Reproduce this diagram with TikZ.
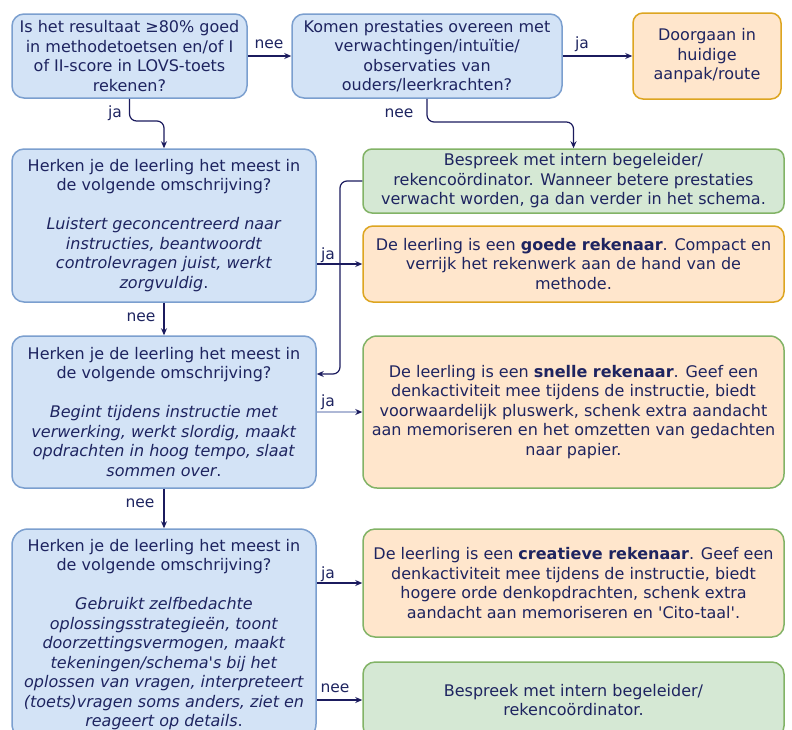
\documentclass[tikz,border=0pt]{standalone}
\usepackage{fontspec}
\setmainfont{DejaVu Sans}
\usetikzlibrary{arrows.meta}
\definecolor{txt}{HTML}{1E2460}
\definecolor{arr}{HTML}{1B1B5E}
\definecolor{bluefill}{HTML}{D3E3F6}
\definecolor{blueline}{HTML}{7B9FCF}
\definecolor{greenfill}{HTML}{D5E8D4}
\definecolor{greenline}{HTML}{82B366}
\definecolor{orangefill}{HTML}{FFE6CC}
\definecolor{orangeline}{HTML}{DDA520}
\definecolor{lightarr}{HTML}{AEB8D6}
\begin{document}
\begin{tikzpicture}[x=1pt,y=-1pt,
  box/.style={rectangle, rounded corners=12pt, line width=1.5pt, align=center,
    inner sep=0pt, text=txt, font=\fontsize{16}{19.5}\selectfont},
  qbox/.style={box, fill=bluefill, draw=blueline},
  gbox/.style={box, fill=greenfill, draw=greenline},
  obox/.style={box, fill=orangefill, draw=orangeline},
  ogbox/.style={box, fill=orangefill, draw=greenline},
  conn/.style={draw=arr, line width=1.2pt, -{Stealth[length=7pt,width=6pt]}},
  lbl/.style={text=txt, font=\fontsize{15.5}{17}\selectfont, inner sep=0pt}]
\useasboundingbox (0,0) rectangle (792,729);
\fill[white] (0,0) rectangle (792,729);

\node[qbox, minimum width=235pt, minimum height=84pt] (A) at (129.5,56)
  {Is het resultaat ≥80\% goed\\in methodetoetsen en/of I\\of II-score in LOVS-toets\\rekenen?};
\node[qbox, minimum width=270pt, minimum height=84pt] (B) at (427,56)
  {Komen prestaties overeen met\\verwachtingen/intuïtie/\\observaties van\\ouders/leerkrachten?};
\node[obox, minimum width=148pt, minimum height=86pt, rounded corners=10pt] (C) at (707,56)
  {Doorgaan in\\huidige\\aanpak/route};

\node[qbox, minimum width=304pt, minimum height=153pt] (Q1) at (164,225.5)
  {Herken je de leerling het meest in\\de volgende omschrijving?\\[19.5pt]
   \textit{Luistert geconcentreerd naar}\\\textit{instructies, beantwoordt}\\
   \textit{controlevragen juist, werkt}\\\textit{zorgvuldig}.};
\node[gbox, minimum width=421pt, minimum height=64pt, rounded corners=9pt] (G1) at (573.5,181)
  {Bespreek met intern begeleider/\\rekencoördinator. Wanneer betere prestaties\\verwacht worden, ga dan verder in het schema.};
\node[obox, minimum width=421pt, minimum height=76pt, rounded corners=10pt] (O1) at (573.5,264)
  {De leerling is een \textbf{goede rekenaar}. Compact en\\verrijk het rekenwerk aan de hand van de\\methode.};

\node[qbox, minimum width=304pt, minimum height=152pt] (Q2) at (164,412)
  {Herken je de leerling het meest in\\de volgende omschrijving?\\[19.5pt]
   \textit{Begint tijdens instructie met}\\\textit{verwerking, werkt slordig, maakt}\\
   \textit{opdrachten in hoog tempo, slaat}\\\textit{sommen over}.};
\node[ogbox, minimum width=421pt, minimum height=152pt, rounded corners=14pt] (O2) at (573.5,412)
  {De leerling is een \textbf{snelle rekenaar}. Geef een\\denkactiviteit mee tijdens de instructie, biedt\\voorwaardelijk pluswerk, schenk extra aandacht\\aan memoriseren en het omzetten van gedachten\\naar papier.};

\node[qbox, minimum width=304pt, minimum height=211pt, rounded corners=16pt] (Q3) at (164,634.5)
  {Herken je de leerling het meest in\\de volgende omschrijving?\\[19.5pt]
   \textit{Gebruikt zelfbedachte}\\\textit{oplossingsstrategieën, toont}\\
   \textit{doorzettingsvermogen, maakt}\\\textit{tekeningen/schema\textquotesingle s bij het}\\
   \textit{oplossen van vragen, interpreteert}\\\textit{(toets)vragen soms anders, ziet en}\\
   \textit{reageert op details}.};
\node[ogbox, minimum width=421pt, minimum height=108pt] (O3) at (573.5,583)
  {De leerling is een \textbf{creatieve rekenaar}. Geef een\\denkactiviteit mee tijdens de instructie, biedt\\hogere orde denkopdrachten, schenk extra\\aandacht aan memoriseren en \textquotesingle Cito-taal\textquotesingle .};
\node[gbox, minimum width=421pt, minimum height=76pt] (G2) at (573.5,700)
  {Bespreek met intern begeleider/\\rekencoördinator.};

% connectors
\draw[conn] (A.east) -- (B.west);
\node[lbl] (lAB) at (269,44) {nee};
\draw[conn] (B.east) -- (C.west);
\node[lbl] (lBC) at (582,44) {ja};
\draw[conn, rounded corners=7pt] (A.south) -- (A.south |- 0,121) -- (Q1.north |- 0,121) -- (Q1.north);
\node[lbl] (lAQ) at (115,113) {ja};
\draw[conn, rounded corners=7pt] (B.south) -- (B.south |- 0,122) -- (G1.north |- 0,122) -- (G1.north);
\node[lbl] (lBG) at (399,113) {nee};
\draw[conn] (Q1.east |- O1.west) -- (O1.west);
\node[lbl] (lQ1) at (328,255) {ja};
\draw[conn, rounded corners=7pt] (G1.west) -- (340,181) -- (340,374) -- (Q2.east |- 0,374);
\draw[conn] (Q1.south) -- (Q2.north);
\node[lbl] (lQ12) at (141,317) {nee};
\draw[conn, draw=lightarr, -{Stealth[length=7pt,width=6pt,color=arr]}] (Q2.east) -- (O2.west);
\node[lbl] (lQ2) at (328,402) {ja};
\draw[conn] (Q2.south) -- (Q3.north);
\node[lbl] (lQ23) at (140,503) {nee};
\draw[conn] (Q3.east |- O3.west) -- (O3.west);
\node[lbl] (lQ3) at (328,574) {ja};
\draw[conn] (Q3.east |- G2.west) -- (G2.west);
\node[lbl] (lQ3n) at (335,688) {nee};
\end{tikzpicture}
\end{document}
